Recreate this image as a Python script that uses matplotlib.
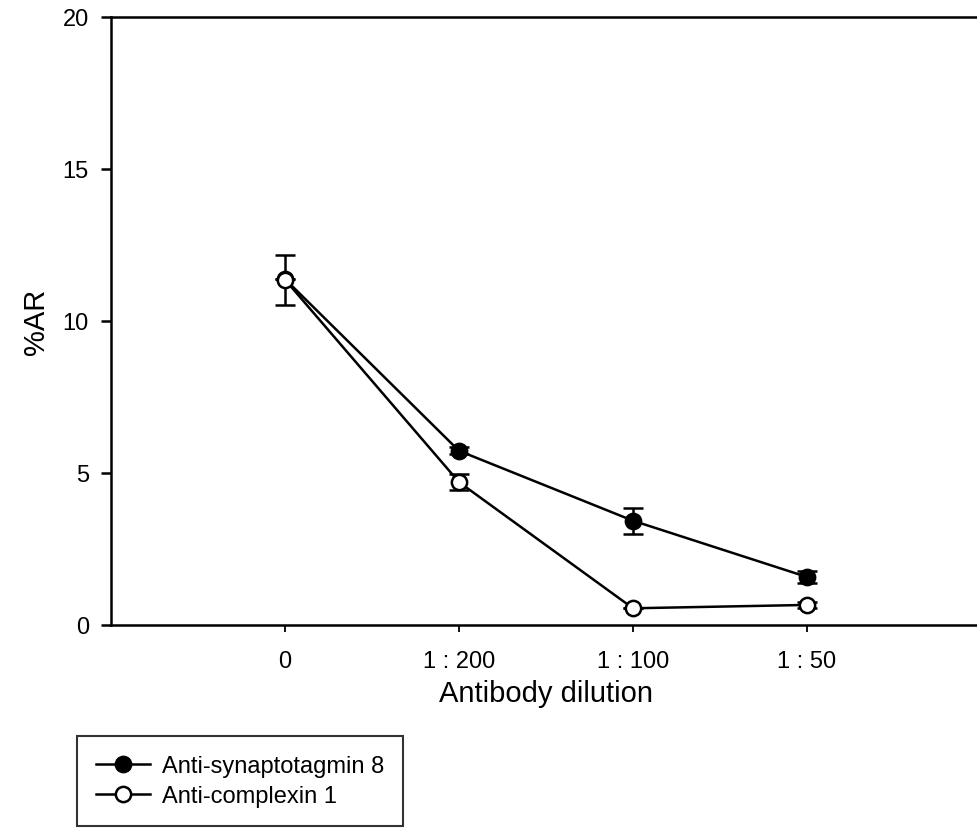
import matplotlib
matplotlib.use("Agg")
import matplotlib.pyplot as plt
from matplotlib.lines import Line2D
import numpy as np

plt.rcParams['font.family'] = ['Liberation Sans', 'DejaVu Sans']

categories = ["0", "1 : 200", "1 : 100", "1 : 50"]
syt8_values = [11.38, 5.73, 3.43, 1.58]
syt8_errors = [0.0, 0.12, 0.43, 0.20]
cplx1_values = [11.36, 4.70, 0.55, 0.66]
cplx1_errors = [0.82, 0.26, 0.0, 0.10]

W, H = 978, 829
fig = plt.figure(figsize=(W / 100, H / 100), dpi=100)
left, right, top, bottom = 111, 981, 18, 626
ax = fig.add_axes([left / W, (H - bottom) / H, (right - left) / W, (bottom - top) / H])

x = np.arange(len(categories))
lw = 1.8

ax.errorbar(x, syt8_values, yerr=syt8_errors, color='black', lw=lw,
            marker='o', ms=11, mfc='black', mec='black', mew=lw,
            capsize=7, capthick=lw, elinewidth=lw, zorder=3,
            label='Anti-synaptotagmin 8')
ax.errorbar(x, cplx1_values, yerr=cplx1_errors, color='black', lw=lw,
            marker='o', ms=11, mfc='white', mec='black', mew=lw,
            capsize=7, capthick=lw, elinewidth=lw, zorder=4,
            label='Anti-complexin 1')

ax.set_xlim(-1, 4)
ax.set_ylim(0, 20)
ax.set_xticks(x)
ax.set_xticklabels(categories)
ax.set_yticks([0, 5, 10, 15, 20])
for s in ax.spines.values():
    s.set_linewidth(lw)
ax.tick_params(axis='y', direction='out', length=7, width=lw, labelsize=17, pad=9)
ax.tick_params(axis='x', direction='out', length=5, width=1.3, labelsize=17, pad=13)

ax.set_xlabel('Antibody dilution', fontsize=21, labelpad=5)
ax.set_ylabel('%AR', fontsize=21, labelpad=9)

h1 = Line2D([], [], color='black', lw=lw, marker='o', ms=11, mfc='black', mec='black', mew=lw)
h2 = Line2D([], [], color='black', lw=lw, marker='o', ms=11, mfc='white', mec='black', mew=lw)
leg = fig.legend([h1, h2], ['Anti-synaptotagmin 8', 'Anti-complexin 1'],
                 loc='upper left', bbox_to_anchor=(77 / W, (H - 737) / H),
                 fontsize=17, frameon=True, fancybox=False, edgecolor='black',
                 handlelength=2.3, handletextpad=0.5, labelspacing=0.35,
                 borderpad=0.8, borderaxespad=0)
leg.get_frame().set_linewidth(1.5)

fig.savefig('out.png', dpi=100)
